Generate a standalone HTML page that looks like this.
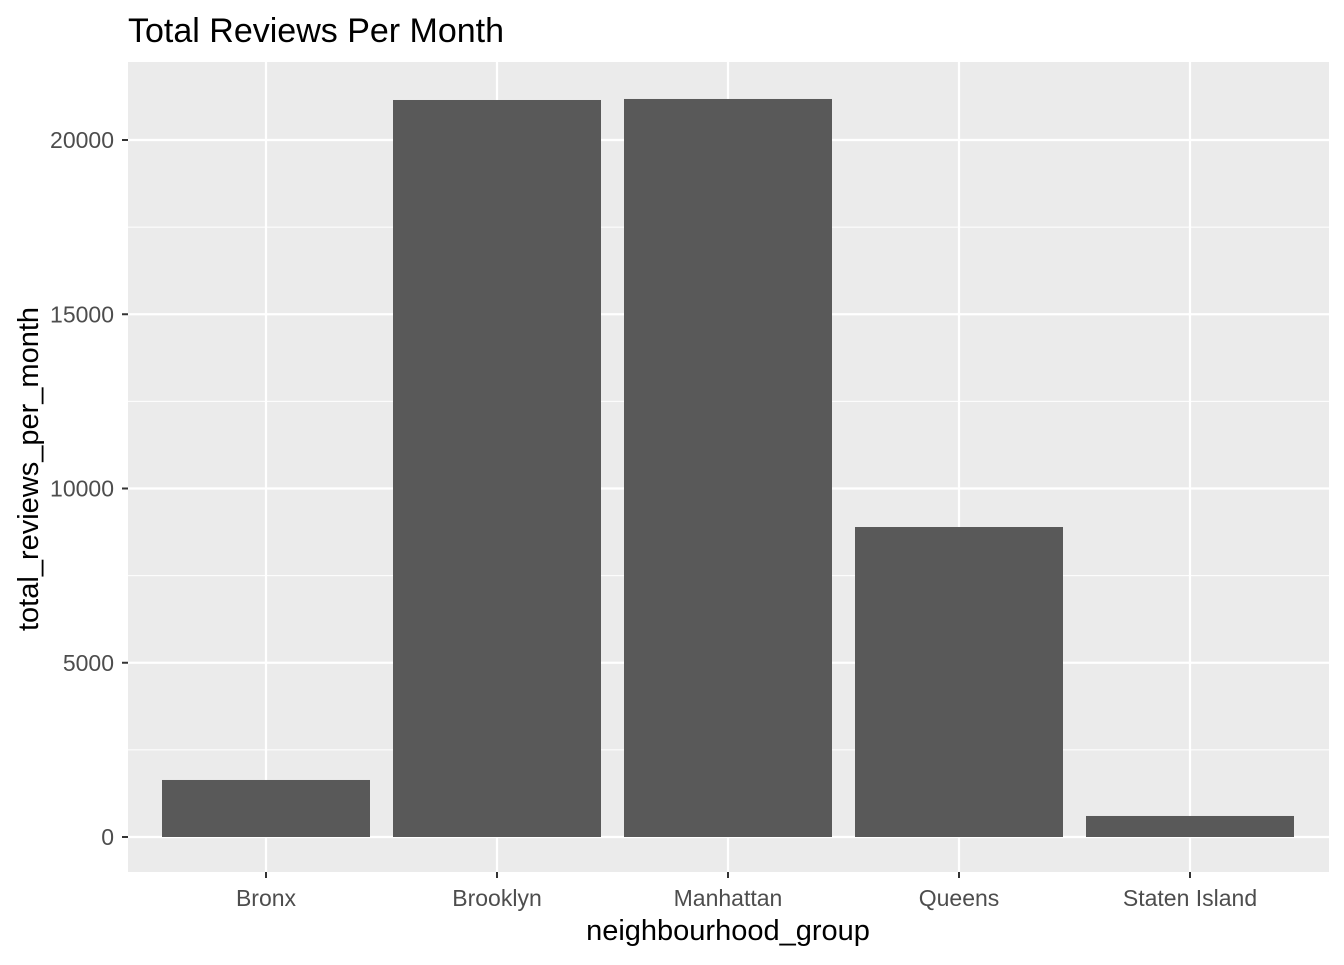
<!DOCTYPE html>
<html><head><meta charset="utf-8"><style>
body{margin:0;background:#fff;}
svg text{font-family:"Liberation Sans",Arial,sans-serif;}
</style></head><body>
<svg width="1344" height="960">
<rect x="0" y="0" width="1344" height="960" fill="#fff"/>
<text x="128" y="42" font-size="34" fill="#000">Total Reviews Per Month</text>
<rect x="128" y="62" width="1201" height="810" fill="#ebebeb"/>
<g id="grid"></g><g id="bars"></g><g id="axes"></g>
<text x="728" y="940" font-size="29" text-anchor="middle" fill="#000">neighbourhood_group</text>
<text transform="translate(38,469) rotate(-90)" font-size="29" text-anchor="middle" fill="#000">total_reviews_per_month</text>
</svg>
<script>
const categories=["Bronx","Brooklyn","Manhattan","Queens","Staten Island"];
const values=[1636,21148,21177,8895,603];
const yTicks=[0,5000,10000,15000,20000];
const NS="http://www.w3.org/2000/svg";
const x0=128,x1=1329,band=231,barW=208;
function xs(i){return 266+i*band;}
function ys(v){return 837-v*(697/20000);}
function mk(tag,attrs,parent){const e=document.createElementNS(NS,tag);for(const k in attrs)e.setAttribute(k,attrs[k]);document.getElementById(parent).appendChild(e);return e;}
for(let i=0;i<yTicks.length;i++){
  const y=ys(yTicks[i]);
  const g=mk("line",{x1:x0,x2:x1,y1:y,y2:y,stroke:"#fff","stroke-width":2.2},"grid");
  
  
  if(i<yTicks.length-1){const ym=ys((yTicks[i]+yTicks[i+1])/2);
    const m=mk("line",{x1:x0,x2:x1,y1:ym,y2:ym,stroke:"#fff","stroke-width":1.1},"grid");
    
    }
  const t=mk("line",{x1:122,x2:128,y1:y,y2:y,stroke:"#333","stroke-width":2},"axes");
  
  
  const l=mk("text",{x:114,y:y+8,"font-size":23,"text-anchor":"end",fill:"#4d4d4d"},"axes");l.textContent=yTicks[i];
  
  
}
{const ym=ys(22500);if(ym>62){const m=mk("line",{x1:x0,x2:x1,y1:ym,y2:ym,stroke:"#fff","stroke-width":1.1},"grid");

}}
categories.forEach((c,i)=>{
  const x=xs(i);
  const g=mk("line",{x1:x,x2:x,y1:62,y2:872,stroke:"#fff","stroke-width":2.2},"grid");
  
  
  const b=mk("rect",{x:x-barW/2,y:ys(values[i]),width:barW,height:ys(0)-ys(values[i]),fill:"#595959"},"bars");
  
  
  const t=mk("line",{x1:x,x2:x,y1:872,y2:878,stroke:"#333","stroke-width":2},"axes");
  
  
  const l=mk("text",{x:x,y:906,"font-size":23,"text-anchor":"middle",fill:"#4d4d4d"},"axes");l.textContent=c;
  
  
});
</script>
</body></html>
